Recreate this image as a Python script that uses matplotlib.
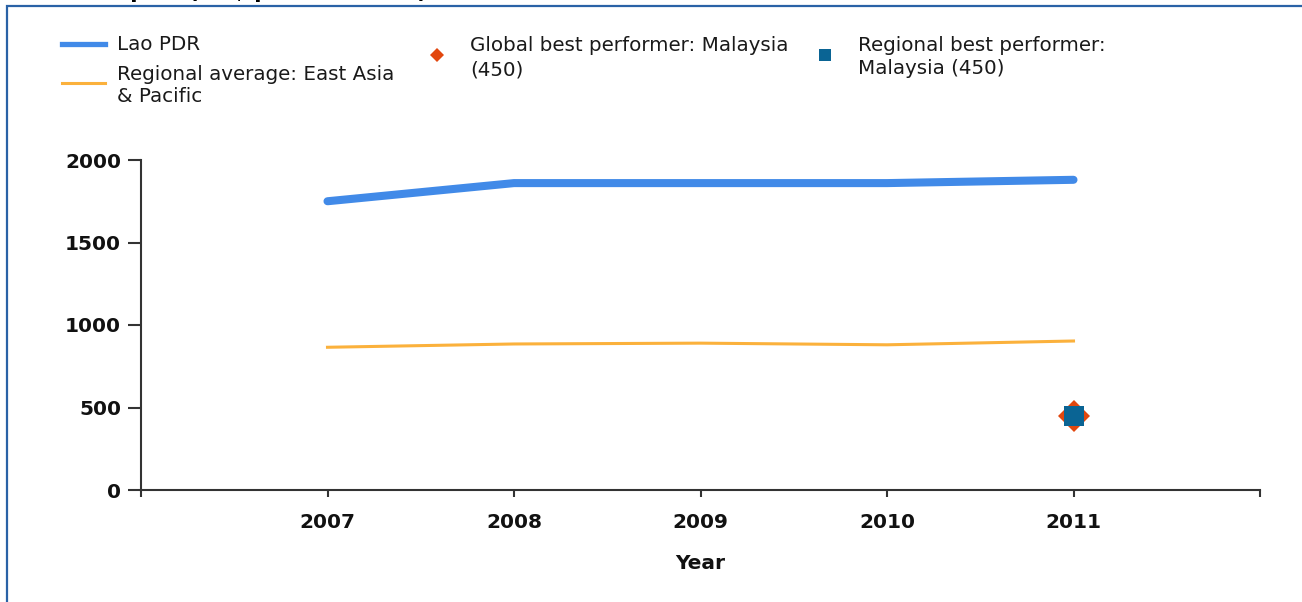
import matplotlib
matplotlib.use('Agg')
import matplotlib.pyplot as plt
from matplotlib.lines import Line2D
from matplotlib.patches import Rectangle

years = [2007, 2008, 2009, 2010, 2011]
lao_pdr = [1750, 1860, 1860, 1860, 1880]
east_asia_avg = [865, 885, 890, 880, 903]
best_year = 2011
global_best = 450
regional_best = 450

tick_years = [2006, 2007, 2008, 2009, 2010, 2011, 2012]
tick_labels = ['', '2007', '2008', '2009', '2010', '2011', '']

blue = '#418ae8'
orange = '#fbb13c'
red = '#e2470e'
teal = '#0a6494'
axis_col = '#333333'

fig = plt.figure(figsize=(13.02, 6.02), dpi=100)
W, H = 1302, 602


def px(x, y):
    # pixel position from the top-left corner -> figure fraction
    return x / W, 1 - y / H


# outer panel border (runs off the right and bottom edge)
fig.patches.append(Rectangle((6.5 / W, -0.1), 1.2, 1 - 5.5 / H + 0.1,
                             transform=fig.transFigure, fill=False,
                             edgecolor='#2a62a6', linewidth=1.6))

# chart title sits above the panel, mostly cut off
fig.text(8 / W, 1 + 1.5 / H, 'Cost to export (US$ per container)',
         fontsize=15.5, fontweight='bold', family='DejaVu Sans',
         va='baseline', ha='left')

ax = fig.add_axes([141 / W, 1 - 490 / H, (1260 - 141) / W, (490 - 160) / H])

ax.plot(years, lao_pdr, color=blue, lw=5.8, solid_capstyle='round',
        solid_joinstyle='round', zorder=3)
ax.plot(years, east_asia_avg, color=orange, lw=2.2, zorder=3)
ax.plot([best_year], [global_best], marker='D', color=red, ms=16,
        mew=0, ls='none', zorder=4)
ax.plot([best_year], [regional_best], marker='s', color=teal, ms=14,
        mew=0, ls='none', zorder=5)

ax.set_xlim(2006, 2012)
ax.set_ylim(0, 2000)
ax.set_xticks(tick_years)
ax.set_xticklabels(tick_labels)
ax.set_yticks([0, 500, 1000, 1500, 2000])

for s in ['top', 'right']:
    ax.spines[s].set_visible(False)
for s in ['left', 'bottom']:
    ax.spines[s].set_color(axis_col)
    ax.spines[s].set_linewidth(1.5)

ax.tick_params(axis='y', length=9.4, width=1.5, color=axis_col, pad=5)
ax.tick_params(axis='x', length=5, width=1.5, color=axis_col, pad=11.5)
for lab in ax.get_xticklabels() + ax.get_yticklabels():
    lab.set_fontweight('bold')
    lab.set_fontsize(14.5)
    lab.set_family('DejaVu Sans')
    lab.set_color('#111111')

ax.set_xlabel('Year', fontsize=14.5, fontweight='bold', family='DejaVu Sans',
              labelpad=16, color='#111111')

# legend, laid out by hand in three columns
leg_font = dict(family='DejaVu Sans', size=14.3, color='#1a1a1a',
                ha='left', va='center')

x0, x1 = px(62, 0)[0], px(105, 0)[0]
fig.add_artist(Line2D([x0, x1], [px(0, 44)[1]] * 2, color=blue, lw=3.8,
                      transform=fig.transFigure))
fig.text(*px(117, 44), 'Lao PDR', **leg_font)

fig.add_artist(Line2D([x0, x1], [px(0, 83)[1]] * 2, color=orange, lw=2.2,
                      transform=fig.transFigure))
fig.text(*px(117, 85), 'Regional average: East Asia\n& Pacific',
         linespacing=1.2, **leg_font)

fig.add_artist(Line2D([px(437, 0)[0]], [px(0, 55)[1]], marker='D', color=red,
                      ms=7.5, mew=0, ls='none', transform=fig.transFigure))
fig.text(*px(470, 58), 'Global best performer: Malaysia\n(450)',
         linespacing=1.35, **leg_font)

fig.add_artist(Line2D([px(825, 0)[0]], [px(0, 55)[1]], marker='s', color=teal,
                      ms=9, mew=0, ls='none', transform=fig.transFigure))
fig.text(*px(858, 57), 'Regional best performer:\nMalaysia (450)',
         linespacing=1.3, **leg_font)

fig.savefig('out.png', dpi=100)
